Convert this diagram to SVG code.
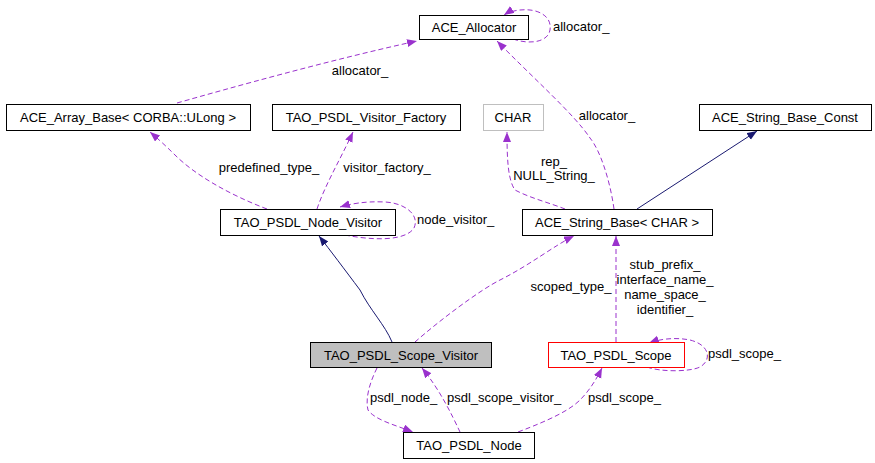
<svg xmlns="http://www.w3.org/2000/svg" width="875" height="463" viewBox="0 0 875 463">
<defs>
<marker id="ap" markerUnits="userSpaceOnUse" markerWidth="11" markerHeight="9" refX="10" refY="4" orient="auto"><path d="M0,0 L10,4 L0,8 z" fill="#9a32cd"/></marker>
<marker id="an" markerUnits="userSpaceOnUse" markerWidth="11" markerHeight="9" refX="10" refY="4" orient="auto"><path d="M0,0 L10,4 L0,8 z" fill="#191970"/></marker>
</defs>
<style>
rect{fill:#fff;stroke:#000;stroke-width:1}
text{font-family:"Liberation Sans",Arial,sans-serif;font-size:13px;fill:#000}
.n text{text-anchor:middle}
.d{fill:none;stroke:#9a32cd;stroke-width:1;stroke-dasharray:5,3;marker-end:url(#ap)}
.s{fill:none;stroke:#191970;stroke-width:1;marker-end:url(#an)}
.l{text-anchor:middle}
</style>
<rect x="0" y="0" width="875" height="463" style="fill:#fff;stroke:none"/>
<g id="connectors">
<path class="d" d="M177,103 C230,88 330,60 417,41"/>
<text class="l" x="360" y="75">allocator_</text>
<path class="d" d="M513,39 C530,45 548,42 550,30 C552,17 540,11 530,10 C520,9 510,11 504,15"/>
<text x="553" y="31">allocator_</text>
<path class="d" d="M614,209 C610,180 600,150 590,138 C575,115 530,75 497,41"/>
<text class="l" x="607" y="120">allocator_</text>
<path class="d" d="M267,209 C230,195 195,175 175,155 C165,145 157,138 150,132"/>
<text class="l" x="269" y="172">predefined_type_</text>
<path class="d" d="M317,209 C325,185 340,160 353,132"/>
<text class="l" x="387" y="172">visitor_factory_</text>
<path class="d" d="M345,235 C370,240 405,242 414,228 C420,215 405,203 385,202 C365,201 350,204 340,207"/>
<text x="417" y="224">node_visitor_</text>
<path class="d" d="M565,209 C550,203 530,198 515,190 C508,180 507,160 507,132"/>
<text class="l" x="554" y="166">rep_</text>
<text class="l" x="554" y="180">NULL_String_</text>
<path class="s" d="M637,209 L757,131"/>
<path class="s" d="M392,342 C385,325 370,310 360,290 C345,270 330,250 319,236"/>
<path class="d" d="M415,342 C440,320 480,290 500,280 C530,265 555,245 574,236"/>
<text class="l" x="571" y="291">scoped_type_</text>
<path class="d" d="M616,342 L616,236"/>
<text class="l" x="665" y="269">stub_prefix_</text>
<text class="l" x="665" y="284">interface_name_</text>
<text class="l" x="665" y="299">name_space_</text>
<text class="l" x="665" y="314">identifier_</text>
<path class="d" d="M647,367 C660,372 690,372 700,367 C712,360 710,345 690,340 C675,337 660,339 649,343"/>
<text x="708" y="358">psdl_scope_</text>
<path class="d" d="M460,432 C452,415 440,390 422,368"/>
<text x="447" y="402">psdl_scope_visitor_</text>
<path class="d" d="M377,368 C370,382 365,398 368,410 C375,420 395,425 413,432"/>
<text x="370" y="402">psdl_node_</text>
<path class="d" d="M518,432 C550,420 570,410 580,400 C590,390 597,378 602,368"/>
<text x="588" y="402">psdl_scope_</text>
</g>
<g id="ace_allocator" class="n"><rect x="419.5" y="15.5" width="109" height="24"/><text x="474" y="32">ACE_Allocator</text></g>
<g id="ace_array_base" class="n"><rect x="6.5" y="104.5" width="244" height="26"/><text x="128" y="122">ACE_Array_Base&lt; CORBA::ULong &gt;</text></g>
<g id="visitor_factory" class="n"><rect x="272.5" y="104.5" width="188" height="26"/><text x="366" y="122">TAO_PSDL_Visitor_Factory</text></g>
<g id="char" class="n"><rect x="483.5" y="104.5" width="60" height="26" style="stroke:#bfbfbf"/><text x="513" y="122">CHAR</text></g>
<g id="string_base_const" class="n"><rect x="699.5" y="104.5" width="172" height="26"/><text x="785" y="122">ACE_String_Base_Const</text></g>
<g id="node_visitor" class="n"><rect x="220.5" y="209.5" width="175" height="26"/><text x="308" y="227">TAO_PSDL_Node_Visitor</text></g>
<g id="string_base" class="n"><rect x="522.5" y="209.5" width="190" height="26"/><text x="617" y="227">ACE_String_Base&lt; CHAR &gt;</text></g>
<g id="scope_visitor" class="n"><rect x="310.5" y="342.5" width="181" height="25" style="fill:#bfbfbf"/><text x="401" y="360">TAO_PSDL_Scope_Visitor</text></g>
<g id="scope" class="n"><rect x="548.5" y="342.5" width="136" height="25" style="stroke:#ff0000"/><text x="616" y="360">TAO_PSDL_Scope</text></g>
<g id="node" class="n"><rect x="403.5" y="432.5" width="131" height="26"/><text x="469" y="450">TAO_PSDL_Node</text></g>
</svg>
